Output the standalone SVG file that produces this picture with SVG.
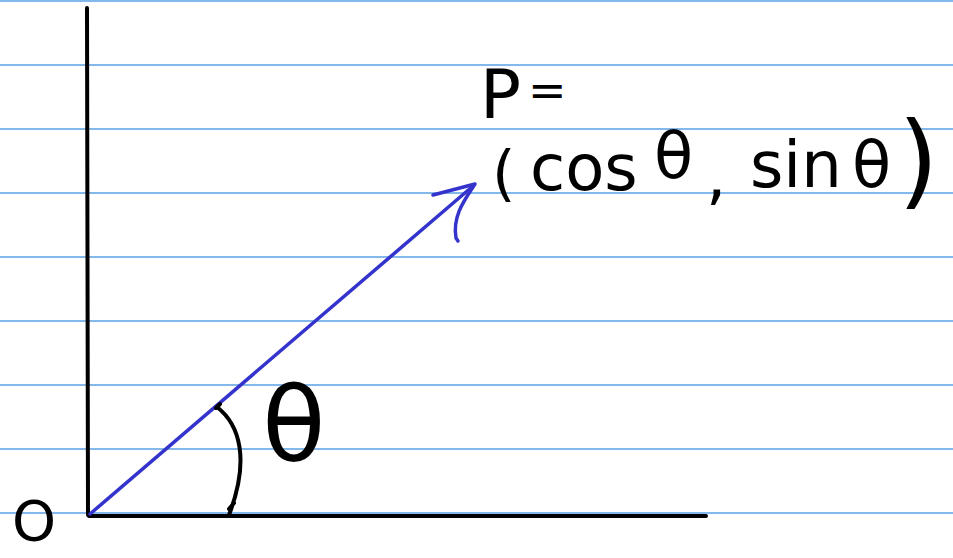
<svg xmlns="http://www.w3.org/2000/svg" width="953" height="558" viewBox="0 0 953 558">
<style>
.rule{stroke:#5b9fe3;stroke-width:1.5}
.ink{fill:none;stroke:#000;stroke-width:4;stroke-linecap:round;stroke-linejoin:round}
.blue{fill:none;stroke:#3434cc;stroke-width:3.5;stroke-linecap:round;stroke-linejoin:round}
.hand{font-family:"DejaVu Sans","Liberation Sans",sans-serif;fill:#000}
</style>
<rect width="953" height="558" fill="#fff"/>
<g id="rules">
<line class="rule" x1="0" y1="1" x2="953" y2="1"/>
<line class="rule" x1="0" y1="65" x2="953" y2="65"/>
<line class="rule" x1="0" y1="129" x2="953" y2="129"/>
<line class="rule" x1="0" y1="193" x2="953" y2="193"/>
<line class="rule" x1="0" y1="257" x2="953" y2="257"/>
<line class="rule" x1="0" y1="321" x2="953" y2="321"/>
<line class="rule" x1="0" y1="385" x2="953" y2="385"/>
<line class="rule" x1="0" y1="449" x2="953" y2="449"/>
<line class="rule" x1="0" y1="513" x2="953" y2="513"/>
</g>
<g id="axes">
<line class="ink" x1="87" y1="8" x2="88" y2="515"/>
<line class="ink" x1="89" y1="516" x2="706" y2="516"/>
</g>
<g id="vector">
<line class="blue" x1="90" y1="514" x2="473" y2="186"/>
<path class="blue" d="M433 195 L475 184 C466 198 452 215 456 238 L458 241"/>
</g>
<g id="angle-arc">
<path class="ink" d="M217 407 C240 425 250 460 229 515 M216 408 L220 404 M229 509 L234 503"/>
</g>
<g id="labels">
<text class="hand" x="12" y="540" font-size="56">O</text>
<text class="hand" x="262" y="461" font-size="104">θ</text>
<text class="hand" font-size="64"><tspan x="480" y="118" font-size="68">P</tspan><tspan x="528" y="106" font-size="46">=</tspan><tspan x="492" y="194" font-size="60">(</tspan><tspan x="530" y="190">cos</tspan><tspan x="654" y="178">θ</tspan><tspan x="706" y="198">,</tspan><tspan x="750" y="187">sin</tspan><tspan x="852" y="187">θ</tspan><tspan x="898" y="196" font-size="104">)</tspan></text>
</g>
</svg>
